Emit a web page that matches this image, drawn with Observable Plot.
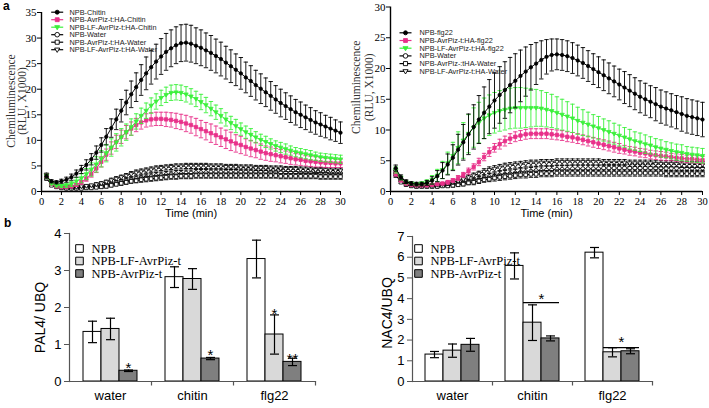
<!DOCTYPE html>
<html><head><meta charset="utf-8">
<script src="https://cdn.jsdelivr.net/npm/d3@7"></script>
<script src="https://cdn.jsdelivr.net/npm/@observablehq/plot@0.6"></script>
<style>
body{margin:0;background:#fff;}
#fig{position:relative;width:709px;height:408px;overflow:hidden;background:#fff;}
#fig > svg{position:absolute;overflow:visible;background:transparent;}
.plabel{position:absolute;font:bold 12px/12px "Liberation Sans",Arial,sans-serif;z-index:5;}
</style></head><body><div id="fig"></div>
<script>
// ---------- time axis (min) ----------
const time = d3.range(0.5, 30.01, 0.5);
const timeTicks = d3.range(0, 31, 2);

// ---------- panel a (left): chitin ----------
const chitinNames = ["NPB-Chitin","NPB-AvrPiz-t:HA-Chitin","NPB-LF-AvrPiz-t:HA-Chitin","NPB-Water","NPB-AvrPiz-t:HA-Water","NPB-LF-AvrPiz-t:HA-Water"];
const chitinNPB = [3.0,2.0,1.8,2.0,2.3,2.8,3.5,4.3,5.2,6.3,7.6,9.1,10.7,12.4,14.1,15.8,17.4,19.0,20.4,21.8,23.1,24.3,25.4,26.4,27.3,28.0,28.6,29.0,29.1,28.9,28.5,28.1,27.6,27.1,26.5,25.9,25.2,24.5,23.8,23.1,22.3,21.6,20.8,20.1,19.4,18.7,18.0,17.3,16.7,16.1,15.5,15.0,14.5,14.0,13.5,13.1,12.7,12.3,11.9,11.5];
const chitinNPBErr = [0.4,0.3,0.3,0.4,0.5,0.6,0.7,0.8,1.0,1.1,1.3,1.4,1.6,1.8,2.0,2.2,2.4,2.6,2.8,3.0,3.2,3.3,3.4,3.5,3.6,3.6,3.6,3.6,3.6,3.6,3.5,3.5,3.4,3.4,3.3,3.3,3.2,3.2,3.1,3.1,3.0,3.0,2.9,2.9,2.8,2.8,2.7,2.7,2.6,2.6,2.5,2.5,2.4,2.4,2.3,2.3,2.2,2.2,2.1,2.1];
const chitinAvr = [3.0,1.5,1.0,0.9,0.9,1.0,1.3,1.8,2.5,3.4,4.5,5.8,7.2,8.5,9.7,10.7,11.6,12.3,13.0,13.5,13.9,14.1,14.2,14.2,14.1,14.0,13.8,13.6,13.3,13.0,12.6,12.2,11.8,11.4,11.0,10.6,10.2,9.8,9.4,9.1,8.7,8.4,8.1,7.8,7.5,7.3,7.1,6.9,6.7,6.5,6.3,6.2,6.0,5.9,5.8,5.7,5.6,5.6,5.5,5.5];
const chitinAvrErr = [0.4,0.2,0.2,0.2,0.2,0.2,0.3,0.4,0.5,0.6,0.8,1.0,1.1,1.2,1.3,1.3,1.3,1.3,1.3,1.3,1.3,1.3,1.3,1.3,1.4,1.4,1.5,1.5,1.6,1.6,1.7,1.7,1.7,1.8,1.8,1.8,1.8,1.8,1.7,1.7,1.6,1.6,1.5,1.5,1.4,1.4,1.3,1.3,1.2,1.2,1.1,1.1,1.0,1.0,1.0,0.9,0.9,0.9,0.8,0.8];
const chitinLF = [3.0,1.6,1.2,1.1,1.2,1.5,2.0,2.6,3.4,4.3,5.3,6.4,7.5,8.6,9.6,10.6,11.6,12.6,13.7,14.8,15.8,16.8,17.6,18.3,18.9,19.3,19.4,19.3,19.0,18.6,18.1,17.5,16.9,16.2,15.5,14.8,14.1,13.4,12.8,12.2,11.6,11.1,10.6,10.1,9.7,9.3,8.9,8.6,8.3,8.0,7.7,7.5,7.3,7.1,6.9,6.7,6.6,6.5,6.4,6.3];
const chitinLFErr = [0.4,0.3,0.3,0.3,0.4,0.5,0.7,0.9,1.1,1.3,1.5,1.6,1.7,1.7,1.7,1.7,1.6,1.6,1.5,1.5,1.5,1.5,1.5,1.5,1.5,1.5,1.5,1.5,1.5,1.5,1.5,1.5,1.5,1.4,1.4,1.4,1.3,1.3,1.3,1.2,1.2,1.2,1.1,1.1,1.1,1.0,1.0,1.0,1.0,0.9,0.9,0.9,0.9,0.9,0.8,0.8,0.8,0.8,0.8,0.8];
const chitinWaterNPB = [2.8,1.4,1.0,0.8,0.7,0.7,0.7,0.8,0.8,0.9,1.0,1.1,1.3,1.5,1.7,1.9,2.1,2.3,2.5,2.7,2.8,3.0,3.1,3.2,3.3,3.4,3.5,3.5,3.6,3.6,3.7,3.7,3.7,3.8,3.8,3.8,3.8,3.8,3.8,3.8,3.8,3.8,3.8,3.8,3.8,3.8,3.8,3.7,3.7,3.7,3.7,3.7,3.7,3.7,3.6,3.6,3.6,3.6,3.6,3.6];
const chitinWaterAvr = [2.6,1.2,0.9,0.7,0.6,0.6,0.6,0.6,0.7,0.7,0.8,0.9,1.0,1.2,1.4,1.6,1.8,2.0,2.1,2.3,2.4,2.5,2.6,2.7,2.8,2.9,2.9,3.0,3.0,3.0,3.1,3.1,3.1,3.1,3.1,3.1,3.1,3.1,3.1,3.1,3.1,3.1,3.1,3.1,3.1,3.1,3.1,3.0,3.0,3.0,3.0,3.0,3.0,3.0,3.0,2.9,2.9,2.9,2.9,2.9];
const chitinWaterLF = [3.2,1.6,1.1,1.0,0.9,0.9,0.9,1.0,1.1,1.2,1.4,1.6,1.9,2.2,2.5,2.8,3.1,3.4,3.7,3.9,4.1,4.3,4.5,4.6,4.7,4.8,4.9,4.9,5.0,5.0,5.0,5.0,5.0,4.9,4.9,4.9,4.8,4.8,4.8,4.7,4.7,4.7,4.6,4.6,4.6,4.5,4.5,4.5,4.4,4.4,4.4,4.3,4.3,4.3,4.2,4.2,4.2,4.1,4.1,4.1];

// ---------- panel a (right): flg22 ----------
const flgNames = ["NPB-flg22","NPB-AvrPiz-t:HA-flg22","NPB-LF-AvrPiz-t:HA-flg22","NPB-Water","NPB-AvrPiz-:tHA-Water","NPB-LF-AvrPiz-t:HA-Water"];
const flgNPB = [3.8,2.3,1.6,1.3,1.2,1.2,1.4,1.8,2.5,3.4,4.4,5.5,6.8,8.0,9.3,10.5,11.7,12.8,13.8,14.8,15.7,16.5,17.3,18.0,18.8,19.5,20.2,20.8,21.4,21.9,22.2,22.3,22.2,22.0,21.7,21.3,20.9,20.4,19.9,19.4,18.9,18.4,17.9,17.4,16.9,16.4,15.9,15.4,15.0,14.6,14.2,13.8,13.5,13.2,12.9,12.6,12.3,12.1,11.9,11.7];
const flgNPBErr = [0.5,0.4,0.3,0.3,0.3,0.3,0.4,0.6,0.9,1.3,1.7,2.1,2.5,2.9,3.3,3.6,3.9,4.2,4.4,4.5,4.6,4.6,4.5,4.4,4.2,4.0,3.7,3.4,3.1,2.8,2.6,2.5,2.5,2.5,2.5,2.5,2.5,2.5,2.5,2.5,2.5,2.5,2.5,2.5,2.6,2.6,2.6,2.6,2.6,2.6,2.7,2.7,2.7,2.7,2.7,2.8,2.8,2.8,2.8,2.8];
const flgAvr = [2.9,1.8,1.3,1.1,1.0,1.0,1.0,1.1,1.2,1.3,1.5,1.8,2.2,2.7,3.3,4.0,4.8,5.6,6.4,7.1,7.7,8.2,8.6,8.9,9.1,9.3,9.4,9.4,9.4,9.4,9.3,9.2,9.1,8.9,8.8,8.6,8.4,8.2,8.0,7.8,7.6,7.4,7.2,7.0,6.8,6.6,6.5,6.3,6.2,6.0,5.9,5.8,5.7,5.6,5.5,5.4,5.3,5.3,5.2,5.1];
const flgAvrErr = [0.4,0.2,0.2,0.2,0.2,0.2,0.2,0.2,0.2,0.2,0.3,0.3,0.4,0.4,0.5,0.5,0.6,0.6,0.7,0.7,0.8,0.8,0.8,0.8,0.8,0.8,0.8,0.8,0.8,0.8,0.8,0.8,0.8,0.8,0.8,0.8,0.8,0.8,0.8,0.8,0.8,0.8,0.8,0.8,0.7,0.7,0.7,0.7,0.7,0.7,0.7,0.7,0.7,0.6,0.6,0.6,0.6,0.6,0.6,0.6];
const flgLF = [3.5,2.2,1.5,1.3,1.2,1.3,1.5,1.9,2.6,3.5,4.6,5.8,7.1,8.3,9.4,10.4,11.2,11.9,12.4,12.8,13.1,13.3,13.5,13.6,13.6,13.6,13.6,13.6,13.5,13.3,13.1,12.8,12.5,12.2,11.9,11.5,11.2,10.9,10.6,10.3,10.0,9.7,9.4,9.1,8.8,8.5,8.2,8.0,7.7,7.5,7.2,7.0,6.8,6.6,6.4,6.3,6.1,6.0,5.9,5.8];
const flgLFErr = [0.5,0.3,0.2,0.2,0.2,0.3,0.4,0.7,1.0,1.4,1.8,2.2,2.6,2.9,3.1,3.2,3.3,3.3,3.3,3.3,3.3,3.3,3.3,3.3,3.3,3.2,3.1,3.0,2.9,2.8,2.7,2.6,2.5,2.4,2.3,2.2,2.1,2.0,1.9,1.9,1.8,1.8,1.7,1.7,1.6,1.6,1.5,1.5,1.5,1.4,1.4,1.4,1.3,1.3,1.3,1.3,1.2,1.2,1.2,1.2];
const flgWaterNPB = [3.0,1.8,1.2,1.0,0.9,0.9,0.9,0.9,0.9,1.0,1.1,1.2,1.3,1.5,1.6,1.8,2.0,2.2,2.4,2.5,2.7,2.8,2.9,3.0,3.1,3.2,3.3,3.4,3.4,3.5,3.5,3.6,3.6,3.6,3.7,3.7,3.7,3.7,3.7,3.7,3.8,3.8,3.8,3.8,3.8,3.8,3.8,3.8,3.8,3.8,3.8,3.8,3.8,3.8,3.8,3.8,3.8,3.8,3.8,3.8];
const flgWaterAvr = [2.7,1.5,1.1,0.9,0.8,0.8,0.8,0.8,0.8,0.9,0.9,1.0,1.1,1.2,1.4,1.5,1.7,1.9,2.0,2.2,2.3,2.4,2.5,2.6,2.7,2.7,2.8,2.8,2.9,2.9,2.9,3.0,3.0,3.0,3.0,3.0,3.0,3.0,3.0,3.0,3.0,3.0,3.0,3.0,3.0,3.0,3.0,3.0,3.0,3.0,3.0,3.0,2.9,2.9,2.9,2.9,2.9,2.9,2.9,2.9];
const flgWaterLF = [3.3,1.9,1.3,1.1,1.0,1.0,1.0,1.0,1.1,1.2,1.3,1.5,1.7,2.0,2.3,2.6,2.9,3.2,3.5,3.7,3.9,4.1,4.2,4.3,4.4,4.5,4.6,4.6,4.7,4.7,4.7,4.8,4.8,4.8,4.8,4.8,4.8,4.8,4.8,4.8,4.7,4.7,4.7,4.7,4.7,4.6,4.6,4.6,4.6,4.6,4.5,4.5,4.5,4.5,4.5,4.4,4.4,4.4,4.4,4.4];
// water error bars (both panels)
const waterNPBErr = [0.4,0.2,0.2,0.2,0.2,0.2,0.2,0.2,0.2,0.2,0.3,0.3,0.3,0.4,0.4,0.4,0.5,0.5,0.5,0.5,0.6,0.6,0.6,0.6,0.6,0.6,0.6,0.6,0.6,0.6,0.6,0.6,0.6,0.6,0.6,0.6,0.6,0.6,0.6,0.6,0.6,0.6,0.6,0.6,0.6,0.6,0.6,0.6,0.6,0.6,0.6,0.6,0.6,0.6,0.6,0.6,0.6,0.6,0.6,0.6];
const waterAvrErr = [0.4,0.2,0.2,0.2,0.2,0.2,0.2,0.2,0.2,0.2,0.2,0.3,0.3,0.3,0.3,0.4,0.4,0.4,0.4,0.5,0.5,0.5,0.5,0.5,0.5,0.5,0.5,0.5,0.5,0.5,0.5,0.5,0.5,0.5,0.5,0.5,0.5,0.5,0.5,0.5,0.5,0.5,0.5,0.5,0.5,0.5,0.5,0.5,0.5,0.5,0.5,0.5,0.5,0.5,0.5,0.5,0.5,0.5,0.5,0.5];
const waterLFErr = [0.4,0.2,0.2,0.2,0.2,0.2,0.2,0.2,0.2,0.2,0.3,0.3,0.3,0.4,0.4,0.4,0.4,0.5,0.5,0.5,0.5,0.5,0.5,0.5,0.5,0.5,0.5,0.5,0.5,0.5,0.5,0.5,0.5,0.5,0.5,0.5,0.5,0.5,0.5,0.5,0.5,0.5,0.5,0.5,0.5,0.5,0.5,0.5,0.5,0.5,0.5,0.5,0.5,0.5,0.5,0.5,0.5,0.5,0.5,0.5];

// ---------- panel b ----------
const groups = ["water","chitin","flg22"];
const genotypes = ["NPB","NPB-LF-AvrPiz-t","NPB-AvrPiz-t"];
const pal4NPB = [1.34,2.82,3.31];
const pal4NPBErr = [0.29,0.28,0.51];
const pal4LF = [1.42,2.77,1.27];
const pal4LFErr = [0.29,0.28,0.53];
const pal4Avr = [0.29,0.62,0.53];
const pal4AvrErr = [0.02,0.03,0.10];
const nac4NPB = [1.30,5.58,6.22];
const nac4NPBErr = [0.15,0.63,0.25];
const nac4LF = [1.49,2.84,1.41];
const nac4LFErr = [0.32,0.86,0.22];
const nac4Avr = [1.77,2.08,1.46];
const nac4AvrErr = [0.31,0.12,0.12];
const pal4Stars = [{group:"water",geno:"NPB-AvrPiz-t",y:0.48,label:"*"},{group:"chitin",geno:"NPB-AvrPiz-t",y:0.82,label:"*"},{group:"flg22",geno:"NPB-LF-AvrPiz-t",y:1.94,label:"*"},{group:"flg22",geno:"NPB-AvrPiz-t",y:0.70,label:"**"}];
const nac4Stars = [{group:"chitin",y:4.18,label:"*"},{group:"flg22",y:2.10,label:"*"}];
const nac4SigLines = [{group:"chitin",y:3.81},{group:"flg22",y:1.64}];

// ---------- styles ----------
const PINK = "#e8318a", GREEN = "#3cf03c";
const SANS = "'Liberation Sans', Arial, sans-serif";
const SERIF = "'Liberation Serif', 'Times New Roman', serif";
const barFill = {"NPB":"#ffffff","NPB-LF-AvrPiz-t":"#d9d9d9","NPB-AvrPiz-t":"#7f7f7f"};

const hcap = {draw(c, size){ const r = Math.sqrt(size/Math.PI); c.moveTo(-r,0); c.lineTo(r,0); }};
const vtick = {draw(c, size){ const r = Math.sqrt(size/Math.PI); c.moveTo(0,0); c.lineTo(0,r); }};
const triDown = {draw(c, size){ const r = Math.sqrt(size/Math.PI); c.moveTo(0,r); c.lineTo(-r*0.95,-r*0.6); c.lineTo(r*0.95,-r*0.6); c.closePath(); }};

function seriesSpecs(vals, errs, names){
  const look = [
    {color:"#000", symbol:"circle", fill:"#000", r:1.7},
    {color:PINK, symbol:"square", fill:PINK, r:1.9},
    {color:GREEN, symbol:triDown, fill:GREEN, r:2.3},
    {color:"#000", symbol:"circle", fill:"#fff", r:2.0},
    {color:"#000", symbol:"square", fill:"#fff", r:2.0},
    {color:"#000", symbol:triDown, fill:"#fff", r:2.4}
  ];
  return look.map((l,i)=>({...l, name:names[i], rows: time.map((t,j)=>({t, v:vals[i][j], e:errs[i][j]}))}));
}

function timeChart(specs, o){
  const marks = [];
  const order = [3,4,5,1,2,0];
  for (const i of order){
    const s = specs[i];
    marks.push(
      Plot.ruleX(s.rows, {x:"t", y1:d=>d.v-d.e, y2:d=>d.v+d.e, stroke:s.color, strokeWidth:0.9}),
      Plot.dot(s.rows, {x:"t", y:d=>d.v+d.e, symbol:hcap, r:2.2, stroke:s.color, fill:"none", strokeWidth:0.9}),
      Plot.dot(s.rows, {x:"t", y:d=>d.v-d.e, symbol:hcap, r:2.2, stroke:s.color, fill:"none", strokeWidth:0.9}),
      Plot.line(s.rows, {x:"t", y:"v", stroke:s.color, strokeWidth:1}),
      Plot.dot(s.rows, {x:"t", y:"v", symbol:s.symbol, r:s.r, fill:s.fill, stroke:s.color, strokeWidth:0.8})
    );
  }
  specs.forEach((s,i)=>{
    const dy = o.legDy + i*o.legStep;
    marks.push(
      Plot.dot([0], {frameAnchor:"top-left", dx:o.legLineDx, dy, symbol:hcap, r:6, stroke:s.color, fill:"none", strokeWidth:1.2}),
      Plot.dot([0], {frameAnchor:"top-left", dx:o.legLineDx, dy, symbol:s.symbol, r:s.r+0.3, fill:s.fill, stroke:s.color, strokeWidth:0.9}),
      Plot.text([s.name], {frameAnchor:"top-left", dx:o.legTextDx, dy, text:d=>d, textAnchor:"start", lineAnchor:"middle", fontFamily:SANS, fontSize:7.3, fill:"#222"})
    );
  });
  marks.push(
    Plot.ruleX([0], {strokeWidth:1.4}),
    Plot.ruleY([0], {strokeWidth:1.4}),
    Plot.axisX({anchor:"bottom", ticks:timeTicks, tickFormat:d=>String(d), tickSize:4, tickPadding:2, fontFamily:SERIF, fontSize:10.5, label:null, fill:"#000"}),
    Plot.axisY({anchor:"left", ticks:o.yTicks, tickFormat:d=>String(d), tickSize:4, tickPadding:1, fontFamily:SERIF, fontSize:11, label:null}),
    Plot.text(["Time (min)"], {frameAnchor:"bottom", dy:22, text:d=>d, textAnchor:"middle", lineAnchor:"middle", fontFamily:SANS, fontSize:11}),
    Plot.text(["Chemiluminescence"], {frameAnchor:"left", dx:o.t1Dx, dy:o.tDy, rotate:-90, text:d=>d, textAnchor:"middle", lineAnchor:"middle", fontFamily:SERIF, fontSize:11.5, fill:"#333"}),
    Plot.text(["(RLU, X1000)"], {frameAnchor:"left", dx:o.t2Dx, dy:o.tDy, rotate:-90, text:d=>d, textAnchor:"middle", lineAnchor:"middle", fontFamily:SERIF, fontSize:11.5, fill:"#333"})
  );
  return Plot.plot({
    width:o.width, height:220,
    marginLeft:o.ml, marginRight:o.mr, marginTop:o.mt, marginBottom:29,
    style:{background:"transparent", overflow:"visible", fontFamily:SERIF},
    x:{domain:[0,30]},
    y:{domain:[0,o.yMax]},
    marks
  });
}

function barChart(npb, lf, avr, npbE, lfE, avrE, o){
  const rows = groups.flatMap((g,i)=>[
    {group:g, geno:genotypes[0], v:npb[i], e:npbE[i]},
    {group:g, geno:genotypes[1], v:lf[i], e:lfE[i]},
    {group:g, geno:genotypes[2], v:avr[i], e:avrE[i]}
  ]);
  const leg = genotypes.map((g,i)=>({group:groups[0], geno:g, i}));
  const marks = [
    Plot.barY(rows, {fx:"group", x:"geno", y:"v", fill:d=>barFill[d.geno], stroke:"#000", strokeWidth:1}),
    Plot.ruleX(rows, {fx:"group", x:"geno", y1:d=>d.v-d.e, y2:d=>d.v+d.e, stroke:"#000", strokeWidth:1.2}),
    Plot.dot(rows, {fx:"group", x:"geno", y:d=>d.v+d.e, symbol:hcap, r:4.5, stroke:"#000", fill:"none", strokeWidth:1.2}),
    Plot.dot(rows, {fx:"group", x:"geno", y:d=>d.v-d.e, symbol:hcap, r:4.5, stroke:"#000", fill:"none", strokeWidth:1.2}),
    Plot.frame({anchor:"bottom", strokeWidth:1.2, stroke:"#555"}),
    Plot.frame({anchor:"left", facetAnchor:"left", strokeWidth:1.2, stroke:"#555"}),
    Plot.dot([0], {frameAnchor:"bottom-right", symbol:vtick, r:4, stroke:"#555", strokeWidth:1.2}),
    Plot.axisY({ticks:o.yTicks, tickFormat:d=>String(d), tickSize:5, tickPadding:3, fontFamily:SANS, fontSize:13, label:null, stroke:"#555"}),
    Plot.axisFx({anchor:"bottom", tickSize:0, tickPadding:9, fontFamily:SANS, fontSize:13, label:null}),
    Plot.text([{group:groups[0], label:o.ylabel}], {fx:"group", frameAnchor:"left", dx:o.ylabelDx, dy:o.ylabelDy, rotate:-90, text:"label", textAnchor:"middle", lineAnchor:"middle", fontFamily:SANS, fontSize:14}),
    ...leg.map(d=>Plot.dot([d], {fx:"group", frameAnchor:"top-left", dx:o.legSqDx, dy:o.legDy + d.i*o.legStep, symbol:"square", r:4.3, fill:barFill[d.geno], stroke:"#000", strokeWidth:1})),
    ...leg.map(d=>Plot.text([d], {fx:"group", frameAnchor:"top-left", dx:o.legTextDx, dy:o.legDy + d.i*o.legStep, text:"geno", textAnchor:"start", lineAnchor:"middle", fontFamily:SERIF, fontSize:12.5}))
  ];
  if (o.stars) marks.push(Plot.text(o.stars, {fx:"group", x:"geno", y:"y", text:"label", fontFamily:SANS, fontSize:15, dy:4}));
  if (o.sigLines){
    marks.push(Plot.ruleY(o.sigLines, {fx:"group", x1:()=>genotypes[1], x2:()=>genotypes[2], y:"y", strokeWidth:1.3}));
    marks.push(Plot.text(o.sigStars, {fx:"group", x:()=>genotypes[2], y:"y", dx:-9, dy:4, text:"label", fontFamily:SANS, fontSize:15}));
  }
  return Plot.plot({
    width:o.width, height:208,
    marginLeft:o.ml, marginRight:o.mr, marginTop:o.mt, marginBottom:27,
    style:{background:"transparent", overflow:"visible", fontFamily:SANS},
    fx:{domain:groups, padding:0},
    x:{domain:genotypes, paddingInner:0, paddingOuter:0.72, axis:null},
    y:{domain:o.yDomain},
    color:{type:"identity"},
    marks
  });
}

const fig = document.getElementById("fig");
function place(el, left, top, z){ el.style.left = left+"px"; el.style.top = top+"px"; el.style.zIndex = z; fig.appendChild(el); }

const bl = barChart(pal4NPB, pal4LF, pal4Avr, pal4NPBErr, pal4LFErr, pal4AvrErr,
  {width:354, ml:69, mr:39, mt:33, yDomain:[0,4], yTicks:[0,1,2,3,4], ylabel:"PAL4/ UBQ", ylabelDx:-29, ylabelDy:10,
   legSqDx:10, legTextDx:22, legDy:15, legStep:12.5, stars:pal4Stars});
place(bl, 0, 200, 1);

const br = barChart(nac4NPB, nac4LF, nac4Avr, nac4NPBErr, nac4LFErr, nac4AvrErr,
  {width:355, ml:57, mr:57, mt:36, yDomain:[0,7], yTicks:[0,1,2,3,4,5,6,7], ylabel:"NAC4/UBQ", ylabelDx:-25, ylabelDy:4,
   legSqDx:6, legTextDx:18, legDy:12, legStep:12.5, sigLines:nac4SigLines, sigStars:nac4Stars});
place(br, 354, 200, 1);

const tl = timeChart(seriesSpecs(
  [chitinNPB, chitinAvr, chitinLF, chitinWaterNPB, chitinWaterAvr, chitinWaterLF],
  [chitinNPBErr, chitinAvrErr, chitinLFErr, waterNPBErr, waterAvrErr, waterLFErr], chitinNames),
  {width:354, ml:41, mr:14, mt:12, yMax:35, yTicks:d3.range(0,36,5), t1Dx:-30, t2Dx:-19, tDy:-1,
   legLineDx:15.7, legTextDx:28, legDy:-0.3, legStep:7.5});
place(tl, 0, 0, 2);

const tr = timeChart(seriesSpecs(
  [flgNPB, flgAvr, flgLF, flgWaterNPB, flgWaterAvr, flgWaterLF],
  [flgNPBErr, flgAvrErr, flgLFErr, waterNPBErr, waterAvrErr, waterLFErr], flgNames),
  {width:355, ml:36, mr:7, mt:6.5, yMax:30, yTicks:d3.range(0,31,5), t1Dx:-34, t2Dx:-21, tDy:-12,
   legLineDx:15, legTextDx:29, legDy:25.8, legStep:7.7});
place(tr, 354, 0, 3);

const a = document.createElement("div"); a.className="plabel"; a.textContent="a"; place(a, 3, 0, 5);
const b = document.createElement("div"); b.className="plabel"; b.textContent="b"; place(b, 4, 217, 5);
</script></body></html>
